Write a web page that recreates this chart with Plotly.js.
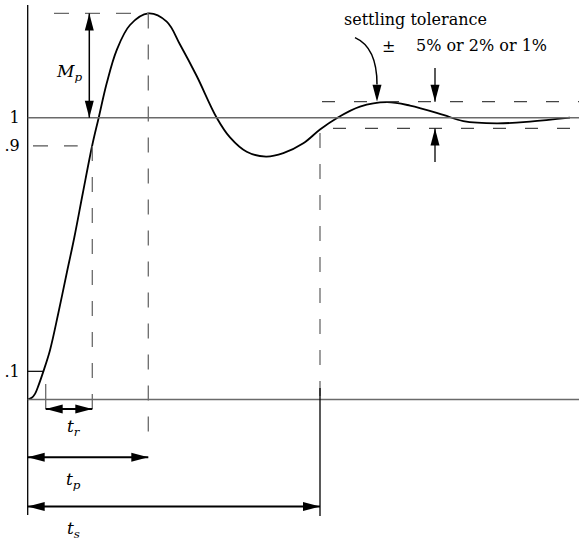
<!DOCTYPE html>
<html>
<head>
<meta charset="utf-8">
<script src="https://cdn.plot.ly/plotly-3.0.1.min.js"></script>
<style>
  html, body { margin: 0; padding: 0; background: #fff; }
  #chart { width: 579px; height: 542px; }
</style>
</head>
<body>
<div id="chart"></div>
<script>
// Step response of an underdamped second-order system
const time = [0, 0.04, 0.073, 0.11, 0.156, 0.223, 0.306, 0.39, 0.466, 0.55, 0.646, 0.71, 0.79, 0.89,
  1.023, 1.206, 1.39, 1.523, 1.69, 1.89, 2.023, 2.19, 2.383, 2.556, 2.756, 2.923,
  3.09, 3.323, 3.59, 3.823, 4.156, 4.356, 4.69, 5.023, 5.423];
const response = [0, 0.006, 0.02, 0.052, 0.099, 0.175, 0.306, 0.448, 0.575, 0.73, 0.903, 1.0, 1.122, 1.24,
  1.329, 1.37, 1.341, 1.26, 1.148, 1.0, 0.93, 0.879, 0.862, 0.874, 0.909, 0.958,
  0.998, 1.039, 1.055, 1.043, 1.01, 0.988, 0.98, 0.986, 1.0];

// Characteristic times and levels
const riseWindow = [0.18, 0.646];     // 10% and 90% crossing times
const peakTime = 1.206;
const peakValue = 1.37;
const settlingTime = 2.923;
const toleranceBand = [0.962, 1.057];
const tickValues = [0.1, 0.9, 1];
const tickLabels = ['.1', '.9', '1'];

const W = 579, H = 542;
const xRange = [-0.277, 5.513];
const yRange = [-0.5057, 1.4177];
const ux = (xRange[1] - xRange[0]) / W;   // data units per pixel
const uy = (yRange[1] - yRange[0]) / H;

const GRAY = '#6a6a6a';
const DASH = '15px,16px';
const FONT = 'DejaVu Serif';

function seg(x0, y0, x1, y1, color, width, dash) {
  return {type: 'line', xref: 'x', yref: 'y', x0, y0, x1, y1,
    line: {color, width, dash: dash || 'solid'}};
}
// filled triangular arrow head with its tip at (x, y)
function head(x, y, dir) {
  const L = 17, hw = 4.5;
  let p;
  if (dir === 'right') p = [[x - L * ux, y + hw * uy], [x - L * ux, y - hw * uy]];
  if (dir === 'left') p = [[x + L * ux, y + hw * uy], [x + L * ux, y - hw * uy]];
  if (dir === 'up') p = [[x - hw * ux, y - L * uy], [x + hw * ux, y - L * uy]];
  if (dir === 'down') p = [[x - hw * ux, y + L * uy], [x + hw * ux, y + L * uy]];
  return {type: 'path', xref: 'x', yref: 'y',
    path: `M${x},${y} L${p[0][0]},${p[0][1]} L${p[1][0]},${p[1][1]} Z`,
    fillcolor: '#000', line: {width: 0}};
}

const xEnd = xRange[1];
const yTr = -0.034, yTp = -0.205, yTs = -0.38;
const xMp = 0.616;
const xTol = 4.073;

const shapes = [
  // vertical axis and reference levels
  seg(0, 1.4, 0, -0.41, '#000', 1.3),
  seg(0, 1, xEnd, 1, GRAY, 1.4),
  seg(0, 0, xEnd, 0, GRAY, 1.4),
  seg(0, 0.1, 0.155, 0.1, '#000', 1.2),
  seg(0.053, 0.9, 0.5, 0.9, '#555', 1.3, DASH),
  // overshoot
  seg(0.263, peakValue, peakTime, peakValue, GRAY, 1.3, DASH),
  seg(xMp, 1, xMp, peakValue, '#000', 1.5),
  head(xMp, peakValue, 'up'), head(xMp, 1, 'down'),
  // rise time
  seg(riseWindow[0], 0.055, riseWindow[0], yTr, GRAY, 1.3),
  seg(riseWindow[1], 0.9, riseWindow[1], yTr, GRAY, 1.3, DASH),
  seg(riseWindow[0], yTr, riseWindow[1], yTr, '#000', 2),
  head(riseWindow[0], yTr, 'left'), head(riseWindow[1], yTr, 'right'),
  // peak time
  seg(peakTime, peakValue, peakTime, -0.161, GRAY, 1.3, DASH),
  seg(0, yTp, peakTime, yTp, '#000', 2),
  head(0, yTp, 'left'), head(peakTime, yTp, 'right'),
  // settling time
  seg(settlingTime, 0.946, settlingTime, 0, GRAY, 1.3, DASH),
  seg(settlingTime, 0.041, settlingTime, -0.413, '#000', 1.3),
  seg(0, yTs, settlingTime, yTs, '#000', 2),
  head(0, yTs, 'left'), head(settlingTime, yTs, 'right'),
  // tolerance band
  seg(2.943, toleranceBand[1], xEnd, toleranceBand[1], '#444', 1.3, '13px,19px'),
  seg(3.053, toleranceBand[0], xEnd, toleranceBand[0], '#444', 1.3, '13px,19px'),
  seg(xTol, 1.176, xTol, toleranceBand[1], '#000', 1.3),
  head(xTol, toleranceBand[1], 'down'),
  seg(xTol, 0.843, xTol, toleranceBand[0], '#000', 1.3),
  head(xTol, toleranceBand[0], 'up'),
  // curved pointer to the band
  {type: 'path', xref: 'x', yref: 'y',
    path: 'M3.273,1.284 C3.393,1.265 3.493,1.223 3.493,1.118',
    line: {color: '#000', width: 1.5}},
  head(3.493, toleranceBand[1], 'down')
];

function label(x, y, text, size) {
  return {x, y, xref: 'x', yref: 'y', text, showarrow: false,
    font: {family: FONT, size: size || 16, color: '#000'}};
}

const annotations = [
  label(0.413, 1.162, '<i>M</i><sub><i>p</i></sub>', 17),
  label(0.463, -0.098, '<i>t</i><sub><i>r</i></sub>', 17),
  label(0.453, -0.286, '<i>t</i><sub><i>p</i></sub>', 17),
  label(0.453, -0.463, '<i>t</i><sub><i>s</i></sub>', 17),
  label(3.873, 1.35, 'settling tolerance'),
  label(3.603, 1.254, '±'),
  label(4.533, 1.258, '5% or 2% or 1%')
];

const trace = {
  x: time, y: response, type: 'scatter', mode: 'lines',
  line: {color: '#000', width: 1.8, shape: 'spline', smoothing: 1},
  hoverinfo: 'skip'
};

const layout = {
  width: W, height: H,
  margin: {l: 0, r: 0, t: 0, b: 0},
  paper_bgcolor: '#fff', plot_bgcolor: '#fff',
  showlegend: false,
  font: {family: FONT, color: '#000'},
  xaxis: {range: xRange, showgrid: false, zeroline: false, showticklabels: false,
    showline: false, ticks: ''},
  yaxis: {range: yRange, showgrid: false, zeroline: false, showline: false, ticks: '',
    anchor: 'free', position: 27.7 / W, side: 'left',
    tickvals: tickValues, ticktext: tickLabels, ticklabelstandoff: 8,
    tickfont: {family: FONT, size: 16, color: '#000'}},
  shapes, annotations
};

Plotly.newPlot('chart', [trace], layout, {staticPlot: true, displayModeBar: false});
</script>
</body>
</html>
